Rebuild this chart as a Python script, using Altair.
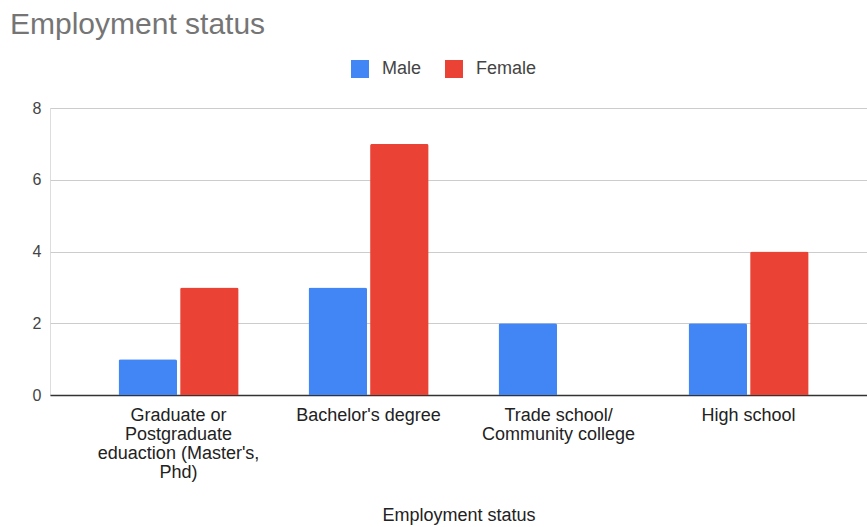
import altair as alt
import pandas as pd

categories = [
    "Graduate or\nPostgraduate\neduaction (Master's,\nPhd)",
    "Bachelor's degree",
    "Trade school/\nCommunity college",
    "High school",
]
male = [1, 3, 2, 2]
female = [3, 7, 0, 4]
series = ["Male", "Female"]
colors = ["#4285F4", "#EA4335"]

rows = []
for c, m, f in zip(categories, male, female):
    rows.append({"cat": c, "gender": "Male", "value": m})
    rows.append({"cat": c, "gender": "Female", "value": f})
df = pd.DataFrame(rows)

FONT = "Arial"

chart = alt.Chart(df).mark_bar(
    cornerRadiusTopLeft=2, cornerRadiusTopRight=2
).encode(
    x=alt.X(
        "cat:N",
        sort=categories,
        scale=alt.Scale(paddingInner=0.368, paddingOuter=0.334, align=0.54),
        axis=alt.Axis(
            title="Employment status",
            labelAngle=0,
            labelExpr="split(datum.label, '\\n')",
            labelFont=FONT,
            labelFontSize=18,
            labelColor="#222222",
            labelLineHeight=19,
            labelPadding=11,
            labelBaseline="top",
            labelLimit=300,
            ticks=False,
            domainColor="#333333",
            domainWidth=1.5,
            titleFont=FONT,
            titleFontSize=18,
            titleFontWeight="normal",
            titleColor="#222222",
            titlePadding=25,
        ),
    ),
    xOffset=alt.XOffset(
        "gender:N", sort=series, scale=alt.Scale(paddingInner=0.05)
    ),
    y=alt.Y(
        "value:Q",
        scale=alt.Scale(domain=[0, 8], nice=False),
        axis=alt.Axis(
            title=None,
            values=[0, 2, 4, 6, 8],
            format="d",
            labelFont=FONT,
            labelFontSize=16,
            labelColor="#444444",
            labelPadding=9,
            ticks=False,
            domain=False,
            gridColor="#cccccc",
            gridWidth=1,
        ),
    ),
    color=alt.Color(
        "gender:N",
        sort=series,
        scale=alt.Scale(domain=series, range=colors),
        legend=alt.Legend(
            title=None,
            orient="none",
            direction="horizontal",
            legendX=301,
            legendY=-48,
            symbolType="square",
            symbolSize=324,
            symbolStrokeWidth=0,
            labelFont=FONT,
            labelFontSize=18,
            labelColor="#444444",
            columnPadding=23,
            labelOffset=13,
        ),
    ),
).properties(
    width=817,
    height=287,
    title=alt.TitleParams(
        "Employment status",
        anchor="start",
        frame="group",
        dx=-40,
        dy=30,
        offset=26,
        baseline="alphabetic",
        font=FONT,
        fontSize=30,
        fontWeight="normal",
        color="#757575",
    ),
    autosize=alt.AutoSizeParams(type="none"),
    padding={"left": 50, "top": 108, "right": 0, "bottom": 132},
).configure_view(stroke=None).configure(background="white")

chart.save("out.html", embed_options={"renderer": "svg", "actions": False})
